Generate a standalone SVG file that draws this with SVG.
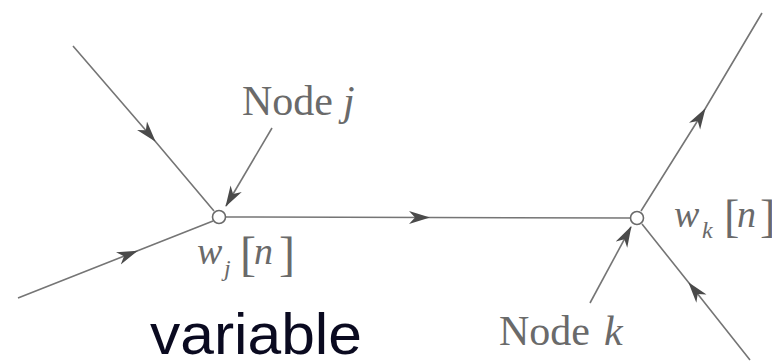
<svg xmlns="http://www.w3.org/2000/svg" width="772" height="361" viewBox="0 0 772 361">
<defs>
<style>
.ln{fill:none;stroke:#757575;stroke-width:1.6}
.nd{fill:#fff;stroke:#6a6a6a;stroke-width:1.6}
.lb{font-family:"Liberation Serif",serif;fill:#6a6a6a}
.it{font-style:italic}
.br{font-style:normal;font-size:48px}
.sub{font-size:24px}
.big{font-family:"Liberation Sans",Arial,sans-serif;fill:#0a0a20}
</style>
<marker id="ah" markerUnits="userSpaceOnUse" markerWidth="24" markerHeight="14" refX="20" refY="7" orient="auto" viewBox="0 0 24 14">
<path d="M0,0.5 L21,7 L0,13.5 L6,7 z" fill="#4a4a4a"/>
</marker>
</defs>
<g id="connectors">
<path class="ln" d="M73,46 L155,141 L214,211" marker-mid="url(#ah)"/>
<path class="ln" d="M18,298 L137,251 L213,221" marker-mid="url(#ah)"/>
<path class="ln" d="M226,217 L429,217.5 L630,218" marker-mid="url(#ah)"/>
<path class="ln" d="M641,211 L705,109 L762,13" marker-mid="url(#ah)"/>
<path class="ln" d="M750,360 L689,283 L642,224" marker-mid="url(#ah)"/>
<path class="ln" d="M272,128 L226,206" marker-end="url(#ah)"/>
<path class="ln" d="M590,303 L631,227" marker-end="url(#ah)"/>
</g>
<g id="node-j">
<circle class="nd" cx="219" cy="217" r="6.5"/>
<text class="lb" x="242" y="115" font-size="42">Node <tspan class="it" x="343">j</tspan></text>
<text class="lb it" x="197" y="264" font-size="38">w<tspan class="sub" x="224" y="276">j</tspan><tspan class="br" x="240" y="270">[</tspan><tspan x="254" y="264">n</tspan><tspan class="br" x="279" y="270">]</tspan></text>
</g>
<g id="node-k">
<circle class="nd" cx="637" cy="218" r="6.5"/>
<text class="lb" x="499" y="345" font-size="42">Node <tspan class="it" x="604">k</tspan></text>
<text class="lb it" x="674" y="227" font-size="38">w<tspan class="sub" x="702" y="238">k</tspan><tspan class="br" x="724" y="232" style="font-size:46px">[</tspan><tspan x="737" y="227">n</tspan><tspan class="br" x="760" y="232" style="font-size:46px">]</tspan></text>
</g>
<g id="caption">
<text class="big" x="150" y="354" font-size="57" textLength="212" lengthAdjust="spacingAndGlyphs">variable</text>
</g>
</svg>
